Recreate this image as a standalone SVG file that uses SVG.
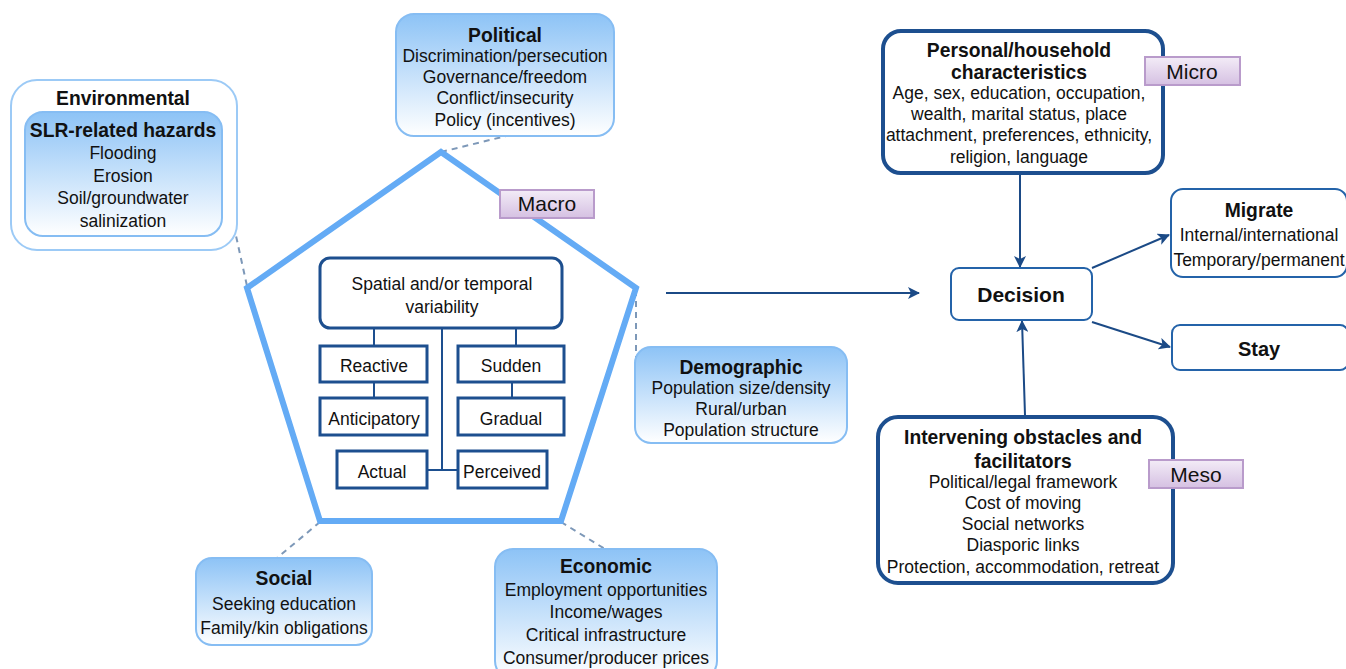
<svg xmlns="http://www.w3.org/2000/svg" width="1346" height="669" viewBox="0 0 1346 669">
<defs>
<linearGradient id="lb" x1="0" y1="0" x2="0" y2="1">
<stop offset="0" stop-color="#8dc3f6"/>
<stop offset="1" stop-color="#ffffff"/>
</linearGradient>
<linearGradient id="lav" x1="0" y1="0" x2="0" y2="1">
<stop offset="0" stop-color="#f3ecf7"/>
<stop offset="1" stop-color="#d5c0e2"/>
</linearGradient>
<marker id="ah" viewBox="0 0 12 12" refX="11" refY="6" markerWidth="12" markerHeight="12" markerUnits="userSpaceOnUse" orient="auto">
<path d="M0,0 L12,6 L0,12 L3,6 Z" fill="#1b4a86"/>
</marker>
<style>
text{font-family:"Liberation Sans",Arial,sans-serif;font-size:17.5px;fill:#111;text-anchor:middle}
.b{font-weight:bold;font-size:19.3px}
.tag{font-size:21px}
.lbox{fill:url(#lb);stroke:#86bdf3;stroke-width:2}
.lab{fill:url(#lav);stroke:#b99bcb;stroke-width:2}
.dk{fill:#fff;stroke:#1d4f8f;stroke-width:3}
.dk4{fill:#fff;stroke:#1d4f8f;stroke-width:4}
.md{fill:#fff;stroke:#2463a9;stroke-width:2}
.dash{stroke:#7d98b8;stroke-width:2;stroke-dasharray:6,5;fill:none}
.tree{stroke:#1d4f8f;stroke-width:2;fill:none}
.arr{stroke:#1b4a86;stroke-width:2;fill:none;marker-end:url(#ah)}
</style>
</defs>

<g id="connectors">
<line class="dash" x1="222" y1="172" x2="247" y2="286"/>
<line class="dash" x1="441" y1="152" x2="506" y2="136"/>
<line class="dash" x1="636" y1="290" x2="636" y2="366"/>
<line class="dash" x1="320" y1="522" x2="277" y2="558"/>
<line class="dash" x1="561" y1="522" x2="605" y2="549"/>
<line class="arr" x1="666" y1="293" x2="919" y2="293"/>
<line class="arr" x1="1020" y1="174" x2="1020" y2="267"/>
<line class="arr" x1="1025" y1="415" x2="1022" y2="321"/>
<line class="arr" x1="1092" y1="268" x2="1169" y2="235"/>
<line class="arr" x1="1092" y1="322" x2="1170" y2="347"/>
</g>

<g id="environmental">
<rect x="11" y="80" width="226" height="170" rx="26" fill="#fff" stroke="#9ccaf6" stroke-width="2"/>
<rect class="lbox" x="25" y="112" width="197" height="124" rx="18"/>
<text class="b" x="123" y="105">Environmental</text>
<text class="b" x="123" y="137">SLR-related hazards</text>
<text x="123" y="159">Flooding</text>
<text x="123" y="182">Erosion</text>
<text x="123" y="204">Soil/groundwater</text>
<text x="123" y="227">salinization</text>
</g>

<g id="political">
<rect class="lbox" x="396" y="14" width="218" height="122" rx="18"/>
<text class="b" x="505" y="42">Political</text>
<text x="505" y="62">Discrimination/persecution</text>
<text x="505" y="83">Governance/freedom</text>
<text x="505" y="104">Conflict/insecurity</text>
<text x="505" y="126">Policy (incentives)</text>
</g>

<g id="pentagon">
<polygon points="441,152 636,288 561,521 320,521 247,288" fill="#fff" stroke="#64abf5" stroke-width="6" stroke-linejoin="miter"/>
</g>

<g id="macro">
<rect class="lab" x="500" y="190" width="94" height="28"/>
<text class="tag" x="547" y="211">Macro</text>
</g>

<g id="tree-lines">
<line class="tree" x1="374" y1="328" x2="374" y2="346"/>
<line class="tree" x1="374" y1="382" x2="374" y2="398"/>
<line class="tree" x1="516" y1="328" x2="516" y2="346"/>
<line class="tree" x1="512" y1="382" x2="512" y2="398"/>
<line class="tree" x1="442" y1="328" x2="442" y2="470"/>
<line class="tree" x1="427" y1="470" x2="458" y2="470"/>
</g>

<g id="spatial">
<rect class="dk" x="320" y="258" width="242" height="70" rx="10"/>
<text x="442" y="290">Spatial and/or temporal</text>
<text x="442" y="313">variability</text>
</g>
<g id="reactive"><rect class="dk" x="320" y="346" width="107" height="36"/><text x="374" y="372">Reactive</text></g>
<g id="anticipatory"><rect class="dk" x="320" y="398" width="107" height="37"/><text x="374" y="425">Anticipatory</text></g>
<g id="sudden"><rect class="dk" x="458" y="346" width="106" height="36"/><text x="511" y="372">Sudden</text></g>
<g id="gradual"><rect class="dk" x="458" y="398" width="106" height="37"/><text x="511" y="425">Gradual</text></g>
<g id="actual"><rect class="dk" x="337" y="451" width="90" height="37"/><text x="382" y="478">Actual</text></g>
<g id="perceived"><rect class="dk" x="458" y="451" width="89" height="37"/><text x="502" y="478">Perceived</text></g>

<g id="demographic">
<rect class="lbox" x="635" y="347" width="212" height="96" rx="16"/>
<text class="b" x="741" y="374">Demographic</text>
<text x="741" y="394">Population size/density</text>
<text x="741" y="415">Rural/urban</text>
<text x="741" y="436">Population structure</text>
</g>

<g id="social">
<rect class="lbox" x="196" y="558" width="176" height="87" rx="16"/>
<text class="b" x="284" y="585">Social</text>
<text x="284" y="610">Seeking education</text>
<text x="284" y="634">Family/kin obligations</text>
</g>

<g id="economic">
<rect class="lbox" x="495" y="549" width="222" height="130" rx="18"/>
<text class="b" x="606" y="573">Economic</text>
<text x="606" y="596">Employment opportunities</text>
<text x="606" y="618">Income/wages</text>
<text x="606" y="641">Critical infrastructure</text>
<text x="606" y="664">Consumer/producer prices</text>
</g>

<g id="personal">
<rect class="dk4" x="883" y="31" width="280" height="142" rx="18"/>
<text class="b" x="1019" y="57">Personal/household</text>
<text class="b" x="1019" y="79">characteristics</text>
<text x="1019" y="99">Age, sex, education, occupation,</text>
<text x="1019" y="120">wealth, marital status, place</text>
<text x="1019" y="141">attachment, preferences, ethnicity,</text>
<text x="1019" y="163">religion, language</text>
</g>
<g id="micro">
<rect class="lab" x="1145" y="57" width="95" height="28"/>
<text class="tag" x="1192" y="79">Micro</text>
</g>

<g id="decision">
<rect class="md" x="951" y="268" width="141" height="52" rx="8"/>
<text class="b" x="1021" y="302" style="font-size:21px">Decision</text>
</g>

<g id="migrate">
<rect class="md" x="1171" y="189" width="176" height="88" rx="12"/>
<text class="b" x="1259" y="217">Migrate</text>
<text x="1259" y="241">Internal/international</text>
<text x="1259" y="266">Temporary/permanent</text>
</g>

<g id="stay">
<rect class="md" x="1172" y="325" width="176" height="45" rx="8"/>
<text class="b" x="1259" y="356" style="font-size:20px">Stay</text>
</g>

<g id="intervening">
<rect class="dk4" x="878" y="417" width="295" height="166" rx="20"/>
<text class="b" x="1023" y="444">Intervening obstacles and</text>
<text class="b" x="1023" y="468">facilitators</text>
<text x="1023" y="488">Political/legal framework</text>
<text x="1023" y="509">Cost of moving</text>
<text x="1023" y="530">Social networks</text>
<text x="1023" y="551">Diasporic links</text>
<text x="1023" y="573">Protection, accommodation, retreat</text>
</g>
<g id="meso">
<rect class="lab" x="1149" y="460" width="94" height="28"/>
<text class="tag" x="1196" y="482">Meso</text>
</g>
</svg>
